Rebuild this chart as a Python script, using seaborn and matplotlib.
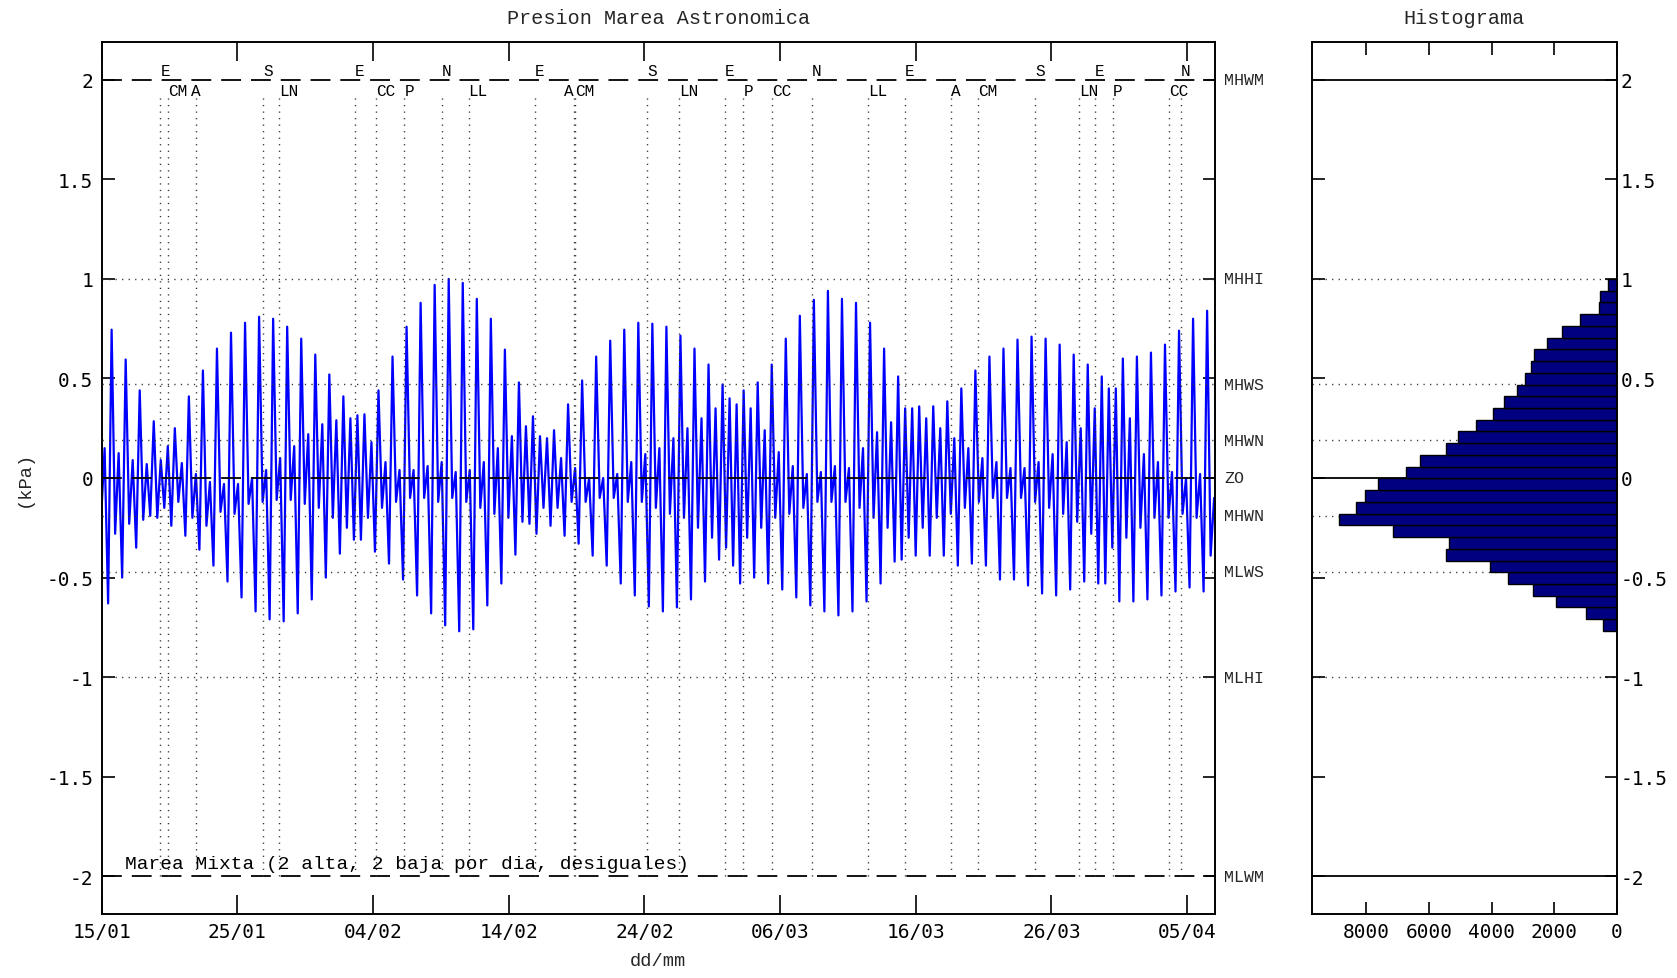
import numpy as np
import pandas as pd
import matplotlib
matplotlib.use("Agg")
import matplotlib.pyplot as plt
import seaborn as sns
from matplotlib.transforms import blended_transform_factory

# ---------------- data ----------------
tick_days = [0, 10, 20, 30, 40, 50, 60, 70, 80]
tick_labels = ["15/01", "25/01", "04/02", "14/02", "24/02", "06/03", "16/03", "26/03", "05/04"]
ytick_vals = [-2, -1.5, -1, -0.5, 0, 0.5, 1, 1.5, 2]

ref_levels = [2, 1, 0.47, 0.19, 0, -0.19, -0.47, -1, -2]
ref_names = ["MHWM", "MHHI", "MHWS", "MHWN", "ZO", "MHWN", "MLWS", "MLHI", "MLWM"]
ref_major = [True, False, False, False, True, False, False, False, True]

event_days = [4.33, 4.89, 6.93, 11.91, 13.10, 18.67, 20.20, 22.31, 25.07, 27.04,
              31.91, 34.80, 34.90, 40.19, 42.57, 45.94, 47.30, 49.42, 52.37, 56.50,
              59.20, 62.59, 64.60, 68.78, 72.05, 73.21, 74.51, 78.68, 79.54]
event_names = ["E", "CM", "A", "S", "LN", "E", "CC", "P", "N", "LL",
               "E", "A", "CM", "S", "LN", "E", "P", "CC", "N", "LL",
               "E", "A", "CM", "S", "LN", "E", "P", "CC", "N"]
event_align = ["left", "left", "center", "left", "left", "left", "left", "left", "left", "left",
               "left", "right", "left", "left", "left", "left", "left", "left", "left", "left",
               "left", "left", "left", "left", "left", "left", "left", "left", "left"]

# tide extremes per lunar day (k = -1 .. 78), in order low_b, high_a, low_a, high_b
low_b = [-0.30, -0.63, -0.50, -0.35, -0.19, -0.15, -0.12, -0.20, -0.24, -0.17,
         -0.18, -0.13, -0.12, -0.11, -0.11, -0.13, -0.15, -0.20, -0.25, -0.31,
         -0.37, -0.43, -0.51, -0.59, -0.68, -0.74, -0.77, -0.76, -0.64, -0.53,
         -0.385, -0.23, -0.15, -0.15, -0.12, -0.12, -0.10, -0.10, -0.12, -0.12,
         -0.15, -0.18, -0.20, -0.25, -0.30, -0.35, -0.53, -0.50, -0.53, -0.56,
         -0.60, -0.64, -0.67, -0.69, -0.67, -0.62, -0.53, -0.42, -0.30, -0.25,
         -0.20, -0.18, -0.15, -0.12, -0.10, -0.10, -0.10, -0.12, -0.15, -0.18,
         -0.22, -0.28, -0.53, -0.62, -0.62, -0.61, -0.59, -0.57, -0.55, -0.57]
high_a = [0.60, 0.745, 0.595, 0.44, 0.285, 0.16, 0.075, 0.02, -0.02, -0.03,
          -0.03, 0.00, 0.04, 0.10, 0.16, 0.22, 0.27, 0.29, 0.30, 0.32,
          0.44, 0.61, 0.76, 0.88, 0.97, 1.00, 0.98, 0.90, 0.80, 0.645,
          0.48, 0.31, 0.20, 0.10, 0.05, 0.00, 0.00, 0.02, 0.08, 0.12,
          0.15, 0.20, 0.25, 0.30, 0.35, 0.40, 0.44, 0.48, 0.57, 0.70,
          0.815, 0.895, 0.94, 0.90, 0.88, 0.78, 0.65, 0.51, 0.35, 0.30,
          0.25, 0.20, 0.15, 0.10, 0.08, 0.05, 0.05, 0.08, 0.12, 0.18,
          0.25, 0.35, 0.45, 0.60, 0.61, 0.63, 0.67, 0.74, 0.80, 0.84]
low_a = [-0.20, -0.28, -0.23, -0.21, -0.20, -0.24, -0.29, -0.36, -0.44, -0.52,
         -0.60, -0.67, -0.71, -0.72, -0.68, -0.61, -0.50, -0.38, -0.31, -0.20,
         -0.15, -0.12, -0.10, -0.10, -0.12, -0.10, -0.12, -0.15, -0.18, -0.20,
         -0.22, -0.28, -0.24, -0.29, -0.33, -0.39, -0.44, -0.53, -0.59, -0.645,
         -0.67, -0.65, -0.61, -0.52, -0.41, -0.44, -0.30, -0.25, -0.20, -0.18,
         -0.15, -0.12, -0.12, -0.12, -0.15, -0.20, -0.25, -0.41, -0.39, -0.39,
         -0.39, -0.44, -0.43, -0.44, -0.51, -0.51, -0.54, -0.58, -0.59, -0.56,
         -0.52, -0.53, -0.35, -0.30, -0.25, -0.20, -0.20, -0.18, -0.20, -0.39]
high_b = [0.15, 0.125, 0.09, 0.07, 0.09, 0.25, 0.41, 0.54, 0.65, 0.73,
          0.78, 0.81, 0.80, 0.76, 0.70, 0.62, 0.52, 0.41, 0.315, 0.18,
          0.08, 0.04, 0.04, 0.06, 0.08, 0.03, 0.04, 0.08, 0.15, 0.21,
          0.26, 0.21, 0.24, 0.37, 0.49, 0.61, 0.69, 0.745, 0.78, 0.775,
          0.76, 0.715, 0.65, 0.57, 0.47, 0.37, 0.35, 0.24, 0.13, 0.06,
          0.02, 0.03, 0.06, 0.05, 0.15, 0.23, 0.28, 0.35, 0.36, 0.36,
          0.385, 0.45, 0.54, 0.61, 0.65, 0.695, 0.71, 0.70, 0.67, 0.62,
          0.57, 0.51, 0.45, 0.30, 0.12, 0.08, 0.03, 0.00, 0.02, -0.10]

# histogram counts, bottom bin to top bin
hist_counts = [437, 980, 1949, 2684, 3472, 4047, 5463, 5357, 7167, 8871,
               8339, 8041, 7615, 6731, 6294, 5453, 5069, 4494, 3951, 3610,
               3184, 2918, 2737, 2631, 2237, 1747, 1161, 575, 533, 266]
hist_lo, hist_hi = -0.768, 1.0
hist_ticks = [8000, 6000, 4000, 2000, 0]

# ---------------- build series ----------------
lunar_day = 1.035
first_low = 0.48 - lunar_day
slot_offsets = [0.0, 0.259, 0.518, 0.776]
k = np.arange(len(low_b))
times = (first_low + lunar_day * k)[:, None] + np.array(slot_offsets)[None, :]
vals = np.column_stack([low_b, high_a, low_a, high_b])
tide = pd.DataFrame({"day": times.ravel(), "kPa": vals.ravel()})

edges = np.linspace(hist_lo, hist_hi, len(hist_counts) + 1)
centers = 0.5 * (edges[:-1] + edges[1:])
hist_df = pd.DataFrame({"kPa": centers, "n": np.array(hist_counts, dtype=float)})

# ---------------- style ----------------
sns.set_theme(style="white")
plt.rcParams["font.family"] = ["Liberation Mono", "DejaVu Sans Mono"]
plt.rcParams["axes.unicode_minus"] = False
plt.rcParams["axes.edgecolor"] = "black"
plt.rcParams["axes.linewidth"] = 1.4

W, H = 1677, 979
fig = plt.figure(figsize=(W / 100, H / 100), dpi=100)
ax = fig.add_axes([101.6 / W, 1 - 915 / H, (1215 - 101.6) / W, (915 - 43) / H])
ax2 = fig.add_axes([1311.7 / W, 1 - 915 / H, (1616.7 - 1311.7) / W, (915 - 43) / H])

YL = (-2.19, 2.19)
dash_style = (0, (11, 5.5))
dot_style = (0, (0.9, 3.8))

# ---------------- main chart ----------------
sns.lineplot(data=tide, x="day", y="kPa", ax=ax, color="#0000ff", lw=1.6,
             sort=False, estimator=None, zorder=2)
for lev, major in zip(ref_levels, ref_major):
    if major:
        ax.axhline(lev, color="black", lw=1.3, linestyle=dash_style, zorder=3)
    else:
        ax.axhline(lev, color="#333333", lw=1.0, linestyle=dot_style, zorder=3)
ax.vlines(event_days, -2.0, 1.93, colors="#333333", lw=1.0, linestyles=[dot_style], zorder=3)

for d, name, ha in zip(event_days, event_names, event_align):
    upper = name in ("E", "S", "N")
    ax.text(d, 2.045 if upper else 1.945, name, ha=ha, va="center",
            fontsize=11.5, color="black", zorder=4)

ax.text(0.021, -1.935, "Marea Mixta (2 alta, 2 baja por dia, desiguales)",
        transform=blended_transform_factory(ax.transAxes, ax.transData),
        ha="left", va="center", fontsize=14, color="black")

tr = blended_transform_factory(ax.transAxes, ax.transData)
for lev, name in zip(ref_levels, ref_names):
    ax.text(1.008, lev, name, transform=tr, ha="left", va="center", fontsize=12)

ax.set_xlim(0, 82.05)
ax.set_ylim(*YL)
ax.set_xticks(tick_days)
ax.set_xticklabels(tick_labels, family="DejaVu Sans Mono")
ax.set_yticks(ytick_vals)
ax.set_yticklabels(["%g" % v for v in ytick_vals], family="DejaVu Sans Mono")
ax.tick_params(axis="both", which="both", direction="in", colors="black", labelsize=14)
ax.tick_params(axis="y", length=9, width=1.2, left=True, right=True, pad=6)
ax.tick_params(axis="x", length=14, width=1.2, bottom=True, top=True, pad=6)
ax.set_xlabel("dd/mm", fontsize=13.5, labelpad=8)
ax.set_ylabel("(kPa)", fontsize=13.5, labelpad=10)
ax.set_title("Presion Marea Astronomica", fontsize=14.5, pad=14)
ax.grid(False)

# ---------------- histogram ----------------
sns.histplot(data=hist_df, y="kPa", weights="n", bins=len(hist_counts),
             binrange=(hist_lo, hist_hi), ax=ax2,
             color="#000080", edgecolor="black", linewidth=1.0, alpha=1.0, zorder=2)
for lev, major in zip(ref_levels, ref_major):
    if major:
        ax2.axhline(lev, color="black", lw=1.3, zorder=0.5)
    else:
        ax2.axhline(lev, color="#333333", lw=1.0, linestyle=dot_style, zorder=0.5)
ax2.set_xlim(9750, 0)
ax2.set_ylim(*YL)
ax2.set_xticks(hist_ticks)
ax2.set_xticklabels([str(v) for v in hist_ticks], family="DejaVu Sans Mono")
ax2.set_yticks(ytick_vals)
ax2.set_yticklabels(["%g" % v for v in ytick_vals], family="DejaVu Sans Mono")
ax2.tick_params(axis="both", which="both", direction="in", colors="black", labelsize=14)
ax2.tick_params(axis="y", length=9, width=1.2, left=True, right=True,
                labelleft=False, labelright=True, pad=3)
ax2.tick_params(axis="x", length=9, width=1.2, bottom=True, top=True, pad=6)
ax2.set_xlabel("")
ax2.set_ylabel("")
ax2.set_title("Histograma", fontsize=14.5, pad=14)
ax2.grid(False)

fig.savefig("out.png", dpi=100)
